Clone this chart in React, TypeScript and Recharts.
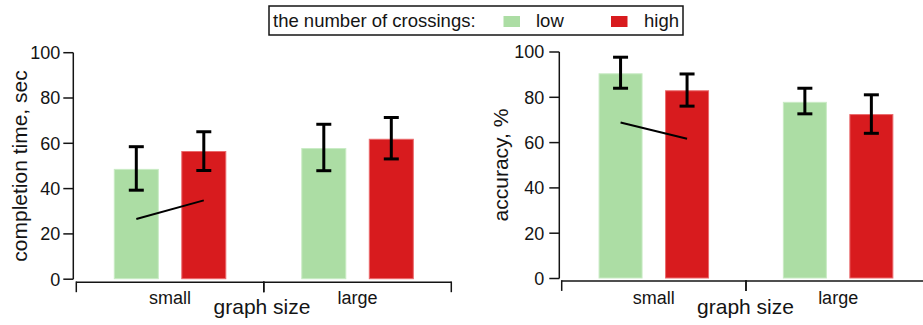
import React from 'react';
import { BarChart, Bar, XAxis, YAxis, ErrorBar } from 'recharts';

// ---------- data ----------
const categories = ['small', 'large'];

// completion time, sec
const timeLowMean = [48.7, 57.9];
const timeLowUpper = [58.5, 68.4];
const timeLowLower = [39.3, 47.9];
const timeHighMean = [56.6, 62.0];
const timeHighUpper = [65.1, 71.4];
const timeHighLower = [48.0, 53.1];
const timeSlopeLow = [26.6, null];
const timeSlopeHigh = [34.8, null];

// accuracy, %
const accLowMean = [90.6, 78.0];
const accLowUpper = [97.7, 84.0];
const accLowLower = [84.0, 72.7];
const accHighMean = [83.1, 72.6];
const accHighUpper = [90.3, 81.1];
const accHighLower = [76.1, 64.1];
const accSlopeLow = [68.9, null];
const accSlopeHigh = [61.7, null];

const yTicks = [0, 20, 40, 60, 80, 100];
const legendTitle = 'the number of crossings:';
const seriesNames = ['low', 'high'];

const GREEN = '#acdda4';
const GREEN_EDGE = '#c9ebc4';
const RED = '#d81b1e';
const RED_EDGE = '#ea6a6c';
const FONT = '"Liberation Sans", Arial, Helvetica, sans-serif';
const INK = '#141414';
const BAR_GAP = 22.5;

function buildRows(
  lowMean: number[], lowUpper: number[], lowLower: number[],
  highMean: number[], highUpper: number[], highLower: number[],
  slopeLow: (number | null)[], slopeHigh: (number | null)[]
) {
  return categories.map((c, i) => ({
    cat: c,
    low: lowMean[i],
    lowErr: [lowMean[i] - lowLower[i], lowUpper[i] - lowMean[i]],
    high: highMean[i],
    highErr: [highMean[i] - highLower[i], highUpper[i] - highMean[i]],
    slopeLow: slopeLow[i],
    slopeHigh: slopeHigh[i],
  }));
}

const timeRows = buildRows(timeLowMean, timeLowUpper, timeLowLower, timeHighMean, timeHighUpper, timeHighLower, timeSlopeLow, timeSlopeHigh);
const accRows = buildRows(accLowMean, accLowUpper, accLowLower, accHighMean, accHighUpper, accHighLower, accSlopeLow, accSlopeHigh);

const LowShape = (props: any) => {
  const { x, y, width, height } = props;
  if (!(height > 0)) return null;
  return <rect x={x + 0.5} y={y + 0.5} width={width - 1} height={height - 1} fill={GREEN} stroke={GREEN_EDGE} strokeWidth={1} />;
};

const HighShape = (props: any) => {
  const { x, y, width, height, payload } = props;
  if (!(height > 0)) return null;
  const base = y + height;
  const ppu = height / payload.high;
  const cxHigh = x + width / 2;
  const cxLow = cxHigh - width - BAR_GAP;
  const has = payload.slopeLow != null && payload.slopeHigh != null;
  return (
    <g>
      <rect x={x + 0.5} y={y + 0.5} width={width - 1} height={height - 1} fill={RED} stroke={RED_EDGE} strokeWidth={1} />
      {has && (
        <line x1={cxLow} y1={base - payload.slopeLow * ppu} x2={cxHigh} y2={base - payload.slopeHigh * ppu} stroke="#000" strokeWidth={2} />
      )}
    </g>
  );
};

// Category tick: label at band centre, axis line segment across the band and tick marks at band edges
const makeCatTick = (gap: number, labelBaseline: number) => (props: any) => {
  const { x, y, payload } = props;
  const half = payload && typeof payload.offset === 'number' && payload.offset > 0 ? payload.offset : 0;
  const ay = y + gap;
  return (
    <g>
      <line x1={x - half} y1={ay} x2={x + half} y2={ay} stroke={INK} strokeWidth={1.5} />
      <line x1={x - half} y1={ay - 0.75} x2={x - half} y2={ay + 10} stroke={INK} strokeWidth={1.5} />
      <line x1={x + half} y1={ay - 0.75} x2={x + half} y2={ay + 10} stroke={INK} strokeWidth={1.5} />
      <text x={x} y={y + labelBaseline} textAnchor="middle" fontSize={18} fill={INK}>{payload.value}</text>
    </g>
  );
};

type PanelProps = {
  rows: any[];
  left: number;
  width: number;
  marginTop: number;
  marginRight: number;
  yAxisWidth: number;
  gap: number;
  labelBaseline: number;
  yTickMargin: number;
};

function Panel(p: PanelProps) {
  const CatTick = makeCatTick(p.gap, p.labelBaseline);
  return (
    <div style={{ position: 'absolute', left: p.left, top: 0, fontFamily: FONT }}>
      <BarChart
        width={p.width}
        height={325}
        data={p.rows}
        margin={{ top: p.marginTop, right: p.marginRight, left: 0, bottom: 0 }}
        barCategoryGap="20%"
        barGap={BAR_GAP}
      >
        <XAxis
          dataKey="cat"
          height={325 - p.marginTop - 226.5}
          axisLine={false}
          tickLine={false}
          tickSize={0}
          tickMargin={0}
          padding={{ left: p.gap, right: 0 }}
          tick={<CatTick />}
          interval={0}
        />
        <YAxis
          domain={[0, 100]}
          ticks={yTicks}
          width={p.yAxisWidth}
          tickSize={10}
          tickMargin={p.yTickMargin}
          tick={{ fontSize: 18, fill: INK }}
          axisLine={{ stroke: INK, strokeWidth: 1.5 }}
          tickLine={{ stroke: INK, strokeWidth: 1.5 }}
        />
        <Bar dataKey="low" fill={GREEN} shape={<LowShape />} isAnimationActive={false}>
          <ErrorBar dataKey="lowErr" direction="y" width={7.5} stroke="#000" strokeWidth={3} isAnimationActive={false} />
        </Bar>
        <Bar dataKey="high" fill={RED} shape={<HighShape />} isAnimationActive={false}>
          <ErrorBar dataKey="highErr" direction="y" width={7.5} stroke="#000" strokeWidth={3} isAnimationActive={false} />
        </Bar>
      </BarChart>
    </div>
  );
}

export default function App() {
  return (
    <div style={{ position: 'absolute', left: 0, top: 0, width: 923, height: 325, overflow: 'hidden', background: '#fff', fontFamily: FONT }}>
      <Panel rows={timeRows} left={0} width={460} marginTop={52.7} marginRight={8.7} yAxisWidth={73.3} gap={3} labelBaseline={25.2} yTickMargin={3} />
      <Panel rows={accRows} left={480} width={460} marginTop={52} marginRight={9.7} yAxisWidth={79.3} gap={2.4} labelBaseline={25.7} yTickMargin={5} />
      <svg width={923} height={325} style={{ position: 'absolute', left: 0, top: 0, pointerEvents: 'none' }} fontFamily={FONT}>
        {/* axis titles */}
        <text x={27} y={166} transform="rotate(-90 27 166)" textAnchor="middle" fontSize={21} fill={INK}>completion time, sec</text>
        <text x={508} y={165} transform="rotate(-90 508 165)" textAnchor="middle" fontSize={21} fill={INK}>accuracy, %</text>
        <text x={262} y={314} textAnchor="middle" fontSize={21} fill={INK}>graph size</text>
        <text x={745.5} y={314} textAnchor="middle" fontSize={21} fill={INK}>graph size</text>
        {/* legend */}
        <rect x={269} y={6} width={414} height={29} fill="#fff" stroke={INK} strokeWidth={1.5} />
        <text x={273} y={26.5} fontSize={18.5} fill={INK}>{legendTitle}</text>
        <rect x={503.5} y={16} width={16.5} height={11} fill={GREEN} />
        <text x={536} y={26.5} fontSize={18.5} fill={INK}>{seriesNames[0]}</text>
        <rect x={611} y={16} width={16.5} height={11} fill={RED} />
        <text x={644} y={26.5} fontSize={18.5} fill={INK}>{seriesNames[1]}</text>
      </svg>
    </div>
  );
}
